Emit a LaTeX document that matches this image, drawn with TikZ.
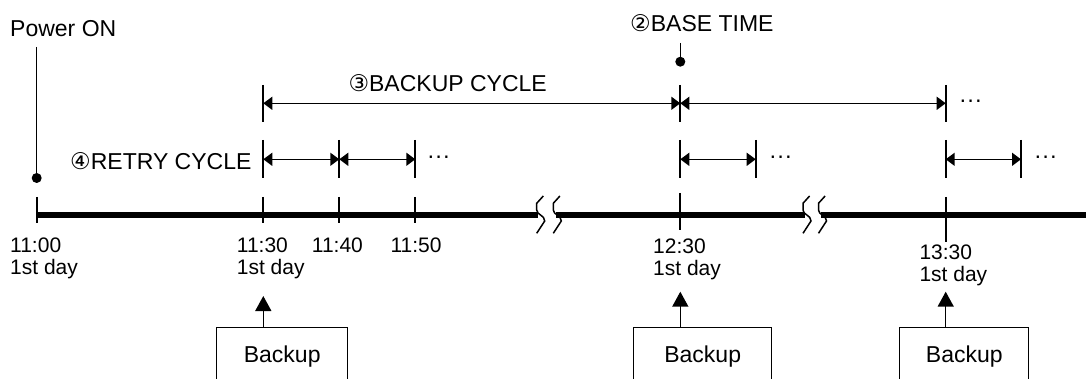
\documentclass[tikz,border=0pt]{standalone}
\usepackage{fontspec}
\setmainfont{Liberation Sans}
\newfontfamily\circfont{DejaVu Sans}
\usetikzlibrary{arrows.meta}
\newcommand{\circnum}[1]{{\circfont #1}}
\begin{document}
\begin{tikzpicture}[x=1pt,y=-1pt,
  lbl/.style={inner sep=0pt,font=\fontsize{23}{27}\selectfont},
  tlbl/.style={inner sep=0pt,align=left,anchor=north west,font=\fontsize{21}{22}\selectfont},
  tickline/.style={line width=1.9pt},
  dimline/.style={line width=1.5pt,{Triangle[length=9pt,width=13pt]}-{Triangle[length=9pt,width=13pt]}},
  mainline/.style={line width=5.5pt},
  brk/.style={line width=1.5pt},
  bkbox/.style={draw,line width=1pt,minimum height=59pt,inner sep=0pt,font=\fontsize{23}{27}\selectfont},
  uparrow/.style={line width=1.5pt,-{Triangle[length=15pt,width=16pt]}},
  dotsnode/.style={inner sep=0pt,anchor=base west,font=\fontsize{23}{27}\selectfont},
  pinline/.style={line width=1pt},
  bigdot/.style={circle,fill,inner sep=0pt,minimum size=10pt}
]
\useasboundingbox (0,0) rectangle (1086,379);

% time axis
\coordinate (T0) at (36.7,215);
\coordinate (Tend) at (1090,215);
\draw[mainline] (T0) -- (538,215);
\draw[mainline] (556,215) -- (805,215);
\draw[mainline] (821,215) -- (Tend);
\foreach \a in {536.7,553.3,803,818.5}{
  \draw[brk] (\a+6.6,196) -- (\a,203.3) -- (\a,210) .. controls (\a,215) and (\a+8,215) .. (\a+8,221) -- (\a,233.3);
}
% ticks on axis
\foreach \x in {36.7,263.3,339.3,415.3}{
  \draw[tickline] (\x,197) -- (\x,223);
}
\draw[tickline] (680.3,193) -- (680.3,230);
\draw[tickline] (945.7,197) -- (945.7,242);

% time labels
\node[tlbl] (l1100) at (10,237.7) {11:00\\1st day};
\node[tlbl] (l1130) at (236.7,237.7) {11:30\\1st day};
\node[tlbl] (l1140) at (311.7,237.7) {11:40};
\node[tlbl] (l1150) at (390.3,237.7) {11:50};
\node[tlbl] (l1230) at (653,238.5) {12:30\\1st day};
\node[tlbl] (l1330) at (919.3,245) {13:30\\1st day};

% Power ON
\node[lbl,anchor=base west] (pwr) at (10,36.7) {Power ON};
\coordinate (pwrtop) at (36.7,47);
\node[bigdot] (pwrdot) at (36.7,178) {};
\draw[pinline] (pwrtop) -- (pwrdot.center);

% Base time
\node[lbl,anchor=base west] (bt) at (630,31.7) {\circnum{②}BASE TIME};
\coordinate (bttop) at (680.3,43);
\node[bigdot] (btdot) at (680.3,61.7) {};
\draw[pinline] (bttop) -- (btdot.center);

% backup cycle
\coordinate (B1) at (263.3,103.3);
\coordinate (B2) at (680.3,103.3);
\coordinate (B3) at (945.7,103.3);
\foreach \x in {263.3,680.3,945.7}{
  \draw[tickline] (\x,85) -- (\x,121.7);
}
\draw[dimline] (B1) -- (B2);
\draw[dimline] (B2) -- (B3);
\node[lbl,anchor=base east] (bc) at (547,91.7) {\circnum{③}BACKUP CYCLE};
\node[dotsnode] (bdots) at (959,107.5) {···};

% retry cycle
\coordinate (R1) at (263.3,159.3);
\coordinate (R2) at (339.3,159.3);
\coordinate (R3) at (415.3,159.3);
\coordinate (R4) at (680.3,159.3);
\coordinate (R5) at (755.7,159.3);
\coordinate (R6) at (945.7,159.3);
\coordinate (R7) at (1021,159.3);
\foreach \x in {263.3,339.3,415.3,680.3,755.7,945.7,1021}{
  \draw[tickline] (\x,140) -- (\x,178);
}
\draw[dimline] (R1) -- (R2);
\draw[dimline] (R2) -- (R3);
\draw[dimline] (R4) -- (R5);
\draw[dimline] (R6) -- (R7);
\node[lbl,anchor=base west] (rc) at (70,169.3) {\circnum{④}RETRY CYCLE};
\node[dotsnode] (rdots1) at (427,163.7) {···};
\node[dotsnode] (rdots2) at (769,163.7) {···};
\node[dotsnode] (rdots3) at (1034,163.7) {···};

% backup boxes
\node[bkbox,minimum width=131pt] (bk1) at (282.2,356.7) {Backup};
\node[bkbox,minimum width=138pt] (bk2) at (702.7,356.7) {Backup};
\node[bkbox,minimum width=129.3pt] (bk3) at (964.3,356.7) {Backup};
\coordinate (a1) at (263.3,296);
\coordinate (a2) at (680.3,291.7);
\coordinate (a3) at (945.7,291.7);
\draw[uparrow] (bk1.north -| a1) -- (a1);
\draw[uparrow] (bk2.north -| a2) -- (a2);
\draw[uparrow] (bk3.north -| a3) -- (a3);
\end{tikzpicture}
\end{document}
